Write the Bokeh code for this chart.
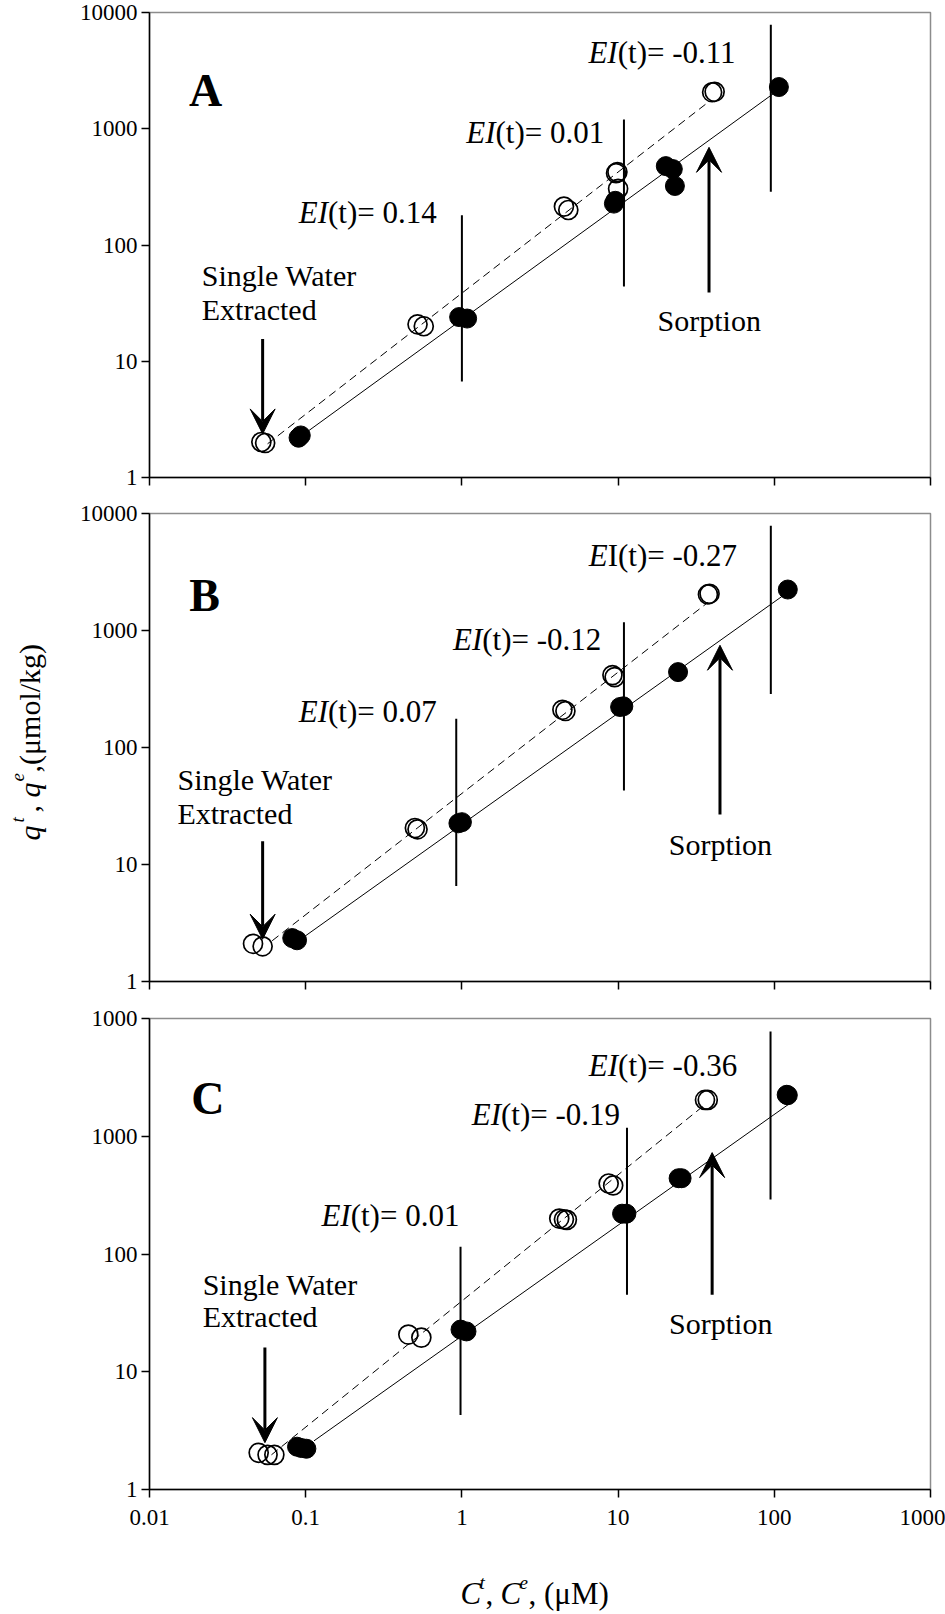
import math
from bokeh.plotting import figure
from bokeh.layouts import column, row
from bokeh.models import Label, Arrow, VeeHead, FixedTicker, CustomJSTickFormatter
from bokeh.core.properties import value
from bokeh.embed import file_html
from bokeh.resources import INLINE

FONT = "Liberation Serif"
PAGE_W, PAGE_H = 945, 1614
STRIP_W = 60
FRAME_L, FRAME_R = 149, 930          # page x of the panel frames

X_TICKS = [0.01, 0.1, 1, 10, 100, 1000]
Y_TICKS = [1, 10, 100, 1000, 10000]

# ---------------- Panel A ----------------
A_open_x = [0.052, 0.055, 0.52, 0.57, 4.5, 4.8, 9.7, 9.9, 10.0, 40.0, 41.5]
A_open_y = [2.02, 1.98, 20.8, 20.0, 214, 200, 415, 424, 304, 2060, 2080]
A_fill_x = [0.090, 0.093, 0.96, 1.08, 9.4, 9.6, 20.2, 22.4, 23.1, 107]
A_fill_y = [2.2, 2.3, 24, 23.3, 227, 240, 477, 450, 322, 2285]
A_dash_x = [0.057, 39]
A_dash_y = [1.95, 1750]
A_solid_x = [0.097, 106]
A_solid_y = [2.35, 2150]
A_ei_x = [1.0, 10.9, 95]
A_ei_lo = [6.7, 44, 287]
A_ei_hi = [180, 1200, 7850]
A_ei_ital = ["EI", "EI", "EI"]
A_ei_rest = ["(t)= 0.14", "(t)= 0.01", "(t)= -0.11"]
A_ei_lx = [0.139, 1.64, 9.94]
A_ei_ly = [190, 920, 4500]
A_sorp = dict(x=38.2, y0=39, y1=692, lx=17.9, ly=22.5)
A_sw = dict(x=0.053, y0=15.5, y1=2.37, lx=0.0216, ly1=54.3, ly2=27.9)
A_letter = dict(text="A", x=0.0229, y=2150)

# ---------------- Panel B ----------------
B_open_x = [0.046, 0.053, 0.50, 0.52, 4.4, 4.6, 9.2, 9.5, 37.6, 38.5]
B_open_y = [2.1, 2.0, 20.5, 20.0, 210, 205, 416, 400, 2032, 2060]
B_fill_x = [0.082, 0.088, 0.95, 1.0, 10.3, 10.8, 24.2, 122]
B_fill_y = [2.35, 2.25, 22.5, 23, 222, 225, 441, 2240]
B_dash_x = [0.061, 37.6]
B_dash_y = [2.23, 1738]
B_solid_x = [0.096, 114]
B_solid_y = [2.37, 1990]
B_ei_x = [0.92, 10.9, 95]
B_ei_lo = [6.55, 43, 287]
B_ei_hi = [176, 1175, 7850]
B_ei_ital = ["EI", "EI", "E"]
B_ei_rest = ["(t)= 0.07", "(t)= -0.12", "I(t)= -0.27"]
B_ei_lx = [0.139, 1.35, 8.58]
B_ei_ly = [202, 842, 4360]
B_sorp = dict(x=44.9, y0=26.8, y1=748, lx=21.1, ly=14.9)
B_sw = dict(x=0.053, y0=15.8, y1=2.3, lx=0.0151, ly1=53.2, ly2=27.4)
B_letter = dict(text="B", x=0.0225, y=1991)

# ---------------- Panel C ----------------
C_open_x = [0.050, 0.057, 0.063, 0.454, 0.55, 4.2, 4.5, 4.7, 8.7, 9.3, 36, 37.5]
C_open_y = [2.05, 1.97, 1.97, 20.7, 19.5, 200, 197, 195, 397, 382, 2033, 2033]
C_fill_x = [0.088, 0.094, 0.101, 0.98, 1.07, 10.6, 11.3, 24.4, 25.5, 120, 122]
C_fill_y = [2.31, 2.25, 2.22, 22.8, 22, 220, 220, 440, 440, 2250, 2230]
C_dash_x = [0.052, 35]
C_dash_y = [1.68, 1800]
C_solid_x = [0.113, 127]
C_solid_y = [2.59, 1918]
C_ei_x = [0.98, 11.4, 94.6]
C_ei_lo = [4.3, 45, 291]
C_ei_hi = [115, 1180, 7770]
C_ei_ital = ["EI", "EI", "EI"]
C_ei_rest = ["(t)= 0.01", "(t)= -0.19", "(t)= -0.36"]
C_ei_lx = [0.194, 1.78, 10.0]
C_ei_ly = [213, 1518, 4010]
C_sorp = dict(x=40, y0=45, y1=726, lx=21.2, ly=25.7)
C_sw = dict(x=0.0548, y0=16.1, y1=2.5, lx=0.0219, ly1=54.7, ly2=29.4)
C_letter = dict(text="C", x=0.0236, y=2072)

# axis titles, split into pieces: (text, style, size, is_superscript)
Y_TITLE_PARTS = [("q", "italic", 30, False), ("t", "italic", 19, True),
                 (",", "normal", 30, False), ("q", "italic", 30, False),
                 ("e", "italic", 19, True), (",(μmol/kg)", "normal", 30, False)]
Y_TITLE_START = [840, 822, 812, 797, 781, 772]      # page y where each piece starts
X_TITLE_PARTS = [("C", "italic", 31, False), ("t", "italic", 19, True),
                 (",", "normal", 31, False), ("C", "italic", 31, False),
                 ("e", "italic", 19, True), (", (μM)", "normal", 31, False)]
X_TITLE_START = [460, 479, 485, 500, 519, 528]      # page x where each piece starts


def lab(p, x, y, text, size, style="normal", align="left", baseline="middle"):
    p.add_layout(Label(x=x, y=y, text=text, text_font=FONT,
                       text_font_size=f"{size}px", text_font_style=style,
                       text_align=align, text_baseline=baseline,
                       text_color="black"))


def build(ox, oy, fx, fy, dx, dy, sx, sy, eix, eilo, eihi, eital, erest, elx, ely,
          sorp, sw, letter, height, top_b, bottom_b, show_x_labels, ycode):
    p = figure(width=PAGE_W - STRIP_W, height=height, x_axis_type="log",
               y_axis_type="log", x_range=(0.01, 1000), y_range=(1, 10000),
               output_backend="svg", toolbar_location=None,
               min_border_left=FRAME_L - STRIP_W, min_border_right=PAGE_W - FRAME_R,
               min_border_top=top_b, min_border_bottom=bottom_b)
    p.grid.visible = False
    p.outline_line_color = "#8c8c8c"
    p.outline_line_width = 1.5
    p.background_fill_color = "white"
    p.border_fill_color = "white"

    for ax in (p.xaxis[0], p.yaxis[0]):
        ax.axis_line_color = "black"
        ax.axis_line_width = 1.5
        ax.major_tick_line_color = "black"
        ax.major_tick_line_width = 1.5
        ax.major_tick_in = 0
        ax.major_tick_out = 8
        ax.minor_tick_line_color = None
        ax.major_label_text_font = FONT
        ax.major_label_text_color = "black"

    p.xaxis[0].ticker = FixedTicker(ticks=X_TICKS, minor_ticks=[])
    p.yaxis[0].ticker = FixedTicker(ticks=Y_TICKS, minor_ticks=[])
    p.yaxis[0].formatter = CustomJSTickFormatter(code=ycode)
    p.yaxis[0].major_label_text_font_size = "23px"
    p.yaxis[0].major_label_standoff = 4
    if show_x_labels:
        p.xaxis[0].formatter = CustomJSTickFormatter(code="return tick.toString();")
        p.xaxis[0].major_label_text_font_size = "23px"
        p.xaxis[0].major_label_standoff = 12
    else:
        p.xaxis[0].formatter = CustomJSTickFormatter(code="return '';")
        p.xaxis[0].major_label_text_font_size = "1px"
        p.xaxis[0].major_label_standoff = 0

    p.line(dx, dy, line_color="black", line_width=1, line_dash="8 5")
    p.line(sx, sy, line_color="black", line_width=1)
    p.segment(x0=eix, y0=eilo, x1=eix, y1=eihi, line_color="black", line_width=2)
    p.scatter(ox, oy, marker="circle", size=19, fill_color=None,
              line_color="black", line_width=1.7)
    p.scatter(fx, fy, marker="circle", size=19, fill_color="black",
              line_color="black")

    for (ax_, y0, y1) in ((sorp["x"], sorp["y0"], sorp["y1"]),
                          (sw["x"], sw["y0"], sw["y1"])):
        p.add_layout(Arrow(end=VeeHead(size=25, fill_color="black",
                                       line_color="black", line_width=1),
                           x_start=ax_, y_start=y0, x_end=ax_, y_end=y1,
                           line_color="black", line_width=3))

    for x, y, it, rest in zip(elx, ely, eital, erest):
        lab(p, x, y, it, 31, style="italic", align="right")
        lab(p, x, y, rest, 31, align="left")
    lab(p, sorp["lx"], sorp["ly"], "Sorption", 30)
    lab(p, sw["lx"], sw["ly1"], "Single Water", 30)
    lab(p, sw["lx"], sw["ly2"], "Extracted", 30)
    lab(p, letter["x"], letter["y"], letter["text"], 46, style="bold", align="center")
    return p


def strip(width, height, fx0, fx1, fy0, fy1, bl, br, bt, bb):
    """Blank figure holding axis-title text; its frame spans page px fx0..fx1, fy0..fy1."""
    s = figure(width=width, height=height, x_range=(fx0, fx1),
               y_range=(PAGE_H - fy1, PAGE_H - fy0),
               output_backend="svg", toolbar_location=None,
               x_axis_location=None, y_axis_location=None,
               min_border_left=bl, min_border_right=br,
               min_border_top=bt, min_border_bottom=bb)
    s.grid.visible = False
    s.outline_line_color = None
    s.background_fill_color = "white"
    s.border_fill_color = "white"
    return s


def piece(s, x, y, txt, style, size, angle=0.0):
    s.text(x=[x], y=[PAGE_H - y], text=[txt], text_font=value(FONT),
           text_font_size=value(f"{size}px"), text_font_style=value(style),
           text_align=value("left"), text_baseline=value("alphabetic"),
           text_color="black", angle=angle)


H_A, H_B, H_C = 500, 505, 545
pA = build(A_open_x, A_open_y, A_fill_x, A_fill_y, A_dash_x, A_dash_y, A_solid_x, A_solid_y,
           A_ei_x, A_ei_lo, A_ei_hi, A_ei_ital, A_ei_rest, A_ei_lx, A_ei_ly,
           A_sorp, A_sw, A_letter, H_A, 12, 23, False, "return tick.toString();")
pB = build(B_open_x, B_open_y, B_fill_x, B_fill_y, B_dash_x, B_dash_y, B_solid_x, B_solid_y,
           B_ei_x, B_ei_lo, B_ei_hi, B_ei_ital, B_ei_rest, B_ei_lx, B_ei_ly,
           B_sorp, B_sw, B_letter, H_B, 13, 24, False, "return tick.toString();")
pC = build(C_open_x, C_open_y, C_fill_x, C_fill_y, C_dash_x, C_dash_y, C_solid_x, C_solid_y,
           C_ei_x, C_ei_lo, C_ei_hi, C_ei_ital, C_ei_rest, C_ei_lx, C_ei_ly,
           C_sorp, C_sw, C_letter, H_C, 13, 61, True,
           "return tick >= 10000 ? '1000' : tick.toString();")

# x-axis title strip (bottom); its frame lines up with the panel frames
X_STRIP_H = PAGE_H - (H_A + H_B + H_C)
pX = strip(PAGE_W - STRIP_W, X_STRIP_H, FRAME_L, FRAME_R, PAGE_H - X_STRIP_H, PAGE_H,
           FRAME_L - STRIP_W, PAGE_W - FRAME_R, 0, 0)
for (txt, style, size, sup), xs in zip(X_TITLE_PARTS, X_TITLE_START):
    piece(pX, xs, 1582 if sup else 1593, txt, style, size)

# y-axis title strip (left); frame top aligned with panel A's frame
pY = strip(STRIP_W, PAGE_H, 0, STRIP_W, 12, PAGE_H, 0, 0, 12, 0)
for (txt, style, size, sup), ys in zip(Y_TITLE_PARTS, Y_TITLE_START):
    piece(pY, 17 if sup else 29, ys, txt, style, size, angle=math.pi / 2)

layout = row(pY, column(pA, pB, pC, pX, spacing=0), spacing=0)
open("out.html", "w").write(file_html(layout, INLINE))
